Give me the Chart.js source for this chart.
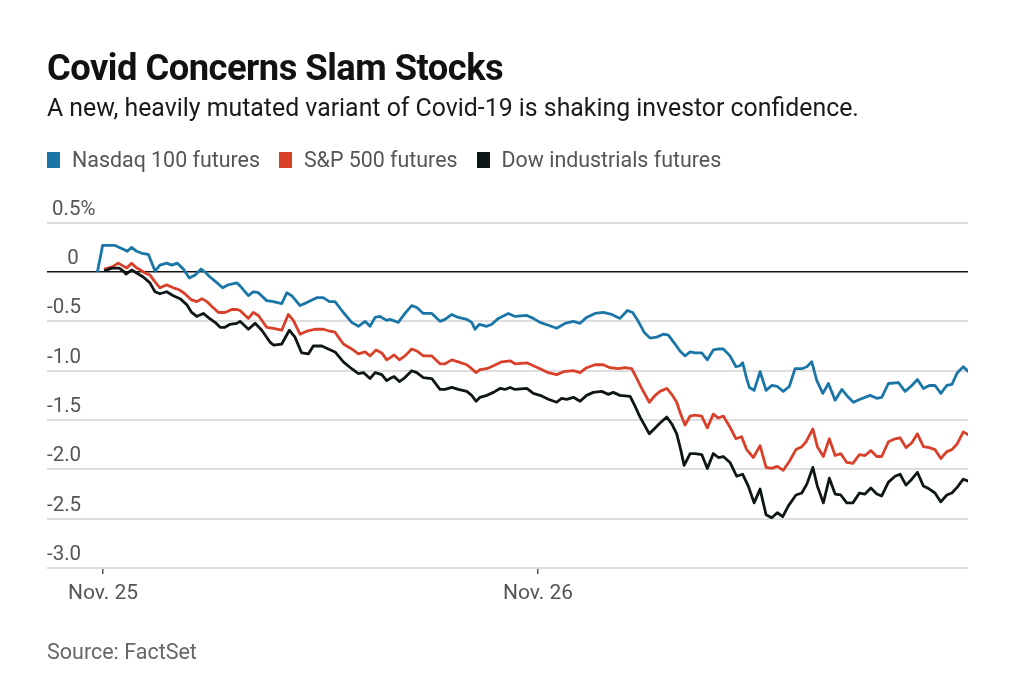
<!DOCTYPE html>
<html>
<head>
<meta charset="utf-8">
<script src="https://cdn.jsdelivr.net/npm/chart.js@4/dist/chart.umd.min.js"></script>
<style>
  html, body { margin:0; padding:0; background:#fff; width:1024px; height:691px; overflow:hidden; font-family: Roboto, "Liberation Sans", sans-serif; }
  #title { position:absolute; left:47px; top:50px; font-size:36.3px; line-height:36px; font-weight:700; color:#111; letter-spacing:-0.5px; white-space:nowrap; }
  #subtitle { position:absolute; left:47px; top:96px; font-size:24.85px; line-height:24.7px; color:#1a1a1a; white-space:nowrap; }
  #legend { position:absolute; left:47px; top:149px; font-size:21.4px; line-height:22px; color:#555; white-space:nowrap; }
  #legend span.item { display:inline-block; margin-right:19px; }
  #legend span.sw { display:inline-block; width:13px; height:16px; margin-right:12px; vertical-align:-1px; }
  #source { position:absolute; left:47px; top:641px; font-size:21.5px; line-height:21.5px; color:#666; white-space:nowrap; }
  #chart { position:absolute; left:0; top:0; }
</style>
</head>
<body>
<canvas id="chart" width="1024" height="691"></canvas>
<div id="title">Covid Concerns Slam Stocks</div>
<div id="subtitle">A new, heavily mutated variant of Covid-19 is shaking investor confidence.</div>
<div id="legend"></div>
<div id="source">Source: FactSet</div>
<script>
// ---- data (x = hours since Nov. 25 00:00, y = % change) ----
const seriesNames = ["Nasdaq 100 futures", "S&P 500 futures", "Dow industrials futures"];
const xTickValues = [0, 24];
const xTickLabels = ["Nov. 25", "Nov. 26"];
const yTickValues = [0.5, 0, -0.5, -1.0, -1.5, -2.0, -2.5, -3.0];

const nasdaqPoints = [[-0.31,0.00],[-0.02,0.27],[0.66,0.27],[1.12,0.23],[1.34,0.21],[1.58,0.25],[1.86,0.21],[2.14,0.19],[2.50,0.18],[2.87,0.01],[3.14,0.07],[3.51,0.09],[3.79,0.07],[4.10,0.09],[4.43,0.03],[4.76,-0.06],[5.08,-0.03],[5.41,0.03],[5.63,0.00],[5.90,-0.05],[6.23,-0.10],[6.60,-0.16],[6.91,-0.13],[7.38,-0.11],[7.56,-0.14],[8.02,-0.24],[8.29,-0.20],[8.57,-0.21],[9.03,-0.29],[9.40,-0.30],[9.86,-0.32],[10.14,-0.21],[10.41,-0.24],[10.87,-0.34],[11.24,-0.31],[11.79,-0.26],[12.15,-0.26],[12.49,-0.30],[12.80,-0.30],[13.26,-0.41],[13.72,-0.51],[14.09,-0.55],[14.46,-0.50],[14.73,-0.55],[15.01,-0.46],[15.28,-0.45],[15.65,-0.49],[15.83,-0.48],[16.29,-0.51],[16.66,-0.42],[17.03,-0.34],[17.31,-0.36],[17.67,-0.42],[18.14,-0.42],[18.59,-0.50],[18.87,-0.48],[19.24,-0.43],[19.60,-0.46],[20.07,-0.48],[20.34,-0.51],[20.52,-0.58],[20.76,-0.53],[21.17,-0.55],[21.45,-0.53],[21.81,-0.47],[22.36,-0.42],[22.73,-0.45],[23.38,-0.44],[23.74,-0.47],[24.11,-0.51],[24.57,-0.54],[25.03,-0.57],[25.49,-0.52],[25.95,-0.50],[26.32,-0.52],[26.68,-0.46],[27.14,-0.42],[27.60,-0.41],[28.07,-0.43],[28.52,-0.47],[28.93,-0.39],[29.22,-0.41],[29.53,-0.50],[29.85,-0.61],[30.18,-0.67],[30.55,-0.66],[30.91,-0.63],[31.19,-0.64],[31.56,-0.73],[31.83,-0.80],[32.11,-0.85],[32.39,-0.81],[32.66,-0.82],[33.03,-0.82],[33.34,-0.89],[33.67,-0.79],[33.95,-0.78],[34.22,-0.78],[34.59,-0.85],[34.92,-0.96],[35.14,-0.95],[35.29,-0.92],[35.51,-1.08],[35.66,-1.17],[35.92,-1.20],[36.25,-1.01],[36.58,-1.20],[36.89,-1.15],[37.20,-1.16],[37.53,-1.21],[37.86,-1.16],[38.18,-0.98],[38.55,-0.98],[38.83,-0.96],[39.10,-0.91],[39.38,-1.10],[39.71,-1.23],[40.02,-1.13],[40.39,-1.30],[40.76,-1.19],[41.12,-1.27],[41.40,-1.32],[41.77,-1.29],[42.32,-1.25],[42.69,-1.28],[42.96,-1.27],[43.33,-1.13],[43.88,-1.12],[44.25,-1.21],[44.62,-1.15],[44.93,-1.09],[45.26,-1.18],[45.59,-1.15],[45.90,-1.15],[46.22,-1.23],[46.55,-1.15],[46.83,-1.14],[47.13,-1.02],[47.46,-0.96],[47.74,-1.01]];

const spPoints = [[0.06,0.03],[0.48,0.05],[0.84,0.09],[1.12,0.06],[1.31,0.04],[1.58,0.09],[1.86,0.04],[2.08,0.02],[2.32,-0.01],[2.59,-0.03],[2.87,-0.10],[3.14,-0.16],[3.51,-0.13],[3.88,-0.16],[4.21,-0.18],[4.52,-0.22],[4.86,-0.28],[5.17,-0.30],[5.46,-0.27],[5.73,-0.30],[6.01,-0.35],[6.37,-0.41],[6.73,-0.41],[7.10,-0.38],[7.38,-0.38],[7.56,-0.39],[8.02,-0.47],[8.29,-0.41],[8.57,-0.44],[9.03,-0.56],[9.40,-0.57],[9.86,-0.59],[10.22,-0.43],[10.50,-0.49],[10.87,-0.63],[11.24,-0.60],[11.70,-0.58],[12.15,-0.58],[12.52,-0.60],[12.80,-0.61],[13.26,-0.73],[13.72,-0.78],[14.09,-0.83],[14.46,-0.81],[14.73,-0.85],[15.06,-0.79],[15.38,-0.82],[15.65,-0.89],[15.83,-0.87],[16.06,-0.84],[16.35,-0.89],[16.66,-0.85],[17.03,-0.78],[17.31,-0.80],[17.67,-0.85],[18.14,-0.85],[18.59,-0.93],[18.87,-0.93],[19.24,-0.89],[19.60,-0.91],[20.07,-0.94],[20.34,-0.98],[20.58,-1.02],[20.80,-0.99],[21.17,-0.98],[21.54,-0.95],[22.00,-0.91],[22.46,-0.90],[22.73,-0.93],[23.38,-0.92],[23.74,-0.95],[24.11,-0.98],[24.57,-1.02],[25.03,-1.04],[25.40,-1.01],[25.95,-1.00],[26.32,-1.02],[26.68,-0.97],[27.14,-0.94],[27.60,-0.94],[27.97,-0.97],[28.43,-0.98],[28.80,-0.97],[29.17,-0.98],[29.45,-1.08],[29.72,-1.18],[30.14,-1.32],[30.46,-1.25],[30.73,-1.21],[31.10,-1.18],[31.38,-1.24],[31.65,-1.32],[31.83,-1.42],[32.11,-1.55],[32.39,-1.46],[32.66,-1.45],[33.03,-1.46],[33.34,-1.58],[33.67,-1.44],[33.95,-1.48],[34.22,-1.46],[34.55,-1.56],[34.92,-1.69],[35.23,-1.67],[35.51,-1.80],[35.88,-1.88],[36.25,-1.76],[36.58,-1.98],[36.89,-1.99],[37.20,-1.97],[37.53,-2.01],[37.86,-1.92],[38.23,-1.80],[38.55,-1.77],[38.79,-1.72],[39.16,-1.59],[39.41,-1.77],[39.74,-1.87],[40.07,-1.69],[40.39,-1.86],[40.70,-1.84],[41.03,-1.93],[41.37,-1.94],[41.73,-1.85],[42.04,-1.86],[42.36,-1.81],[42.69,-1.87],[42.96,-1.87],[43.33,-1.72],[43.70,-1.69],[43.97,-1.68],[44.30,-1.78],[44.62,-1.73],[44.93,-1.64],[45.26,-1.77],[45.59,-1.78],[45.90,-1.80],[46.22,-1.89],[46.55,-1.82],[46.83,-1.80],[47.13,-1.74],[47.46,-1.62],[47.74,-1.65]];

const dowPoints = [[0.06,0.01],[0.48,0.04],[0.90,0.04],[1.12,0.01],[1.27,-0.02],[1.58,0.02],[1.86,-0.01],[2.22,-0.05],[2.59,-0.11],[2.87,-0.20],[3.14,-0.22],[3.51,-0.20],[3.88,-0.24],[4.25,-0.27],[4.62,-0.33],[4.89,-0.41],[5.17,-0.45],[5.53,-0.42],[5.87,-0.47],[6.18,-0.51],[6.46,-0.56],[6.73,-0.56],[7.01,-0.53],[7.38,-0.52],[7.56,-0.50],[8.02,-0.58],[8.39,-0.52],[8.76,-0.59],[9.21,-0.71],[9.40,-0.74],[9.86,-0.73],[10.28,-0.59],[10.59,-0.66],[10.96,-0.82],[11.33,-0.83],[11.60,-0.75],[12.07,-0.75],[12.43,-0.78],[12.80,-0.81],[13.26,-0.91],[13.72,-0.98],[14.09,-1.03],[14.37,-1.02],[14.73,-1.08],[15.01,-1.02],[15.38,-1.04],[15.65,-1.10],[15.83,-1.08],[16.06,-1.06],[16.35,-1.11],[16.66,-1.07],[17.03,-1.00],[17.31,-1.02],[17.67,-1.07],[18.14,-1.08],[18.59,-1.19],[18.87,-1.19],[19.24,-1.17],[19.60,-1.19],[20.07,-1.21],[20.34,-1.25],[20.58,-1.31],[20.80,-1.27],[21.17,-1.25],[21.54,-1.22],[21.90,-1.18],[22.18,-1.19],[22.46,-1.17],[22.73,-1.19],[23.38,-1.18],[23.74,-1.23],[24.11,-1.25],[24.57,-1.29],[25.03,-1.32],[25.30,-1.28],[25.58,-1.29],[25.95,-1.27],[26.32,-1.31],[26.68,-1.25],[27.05,-1.22],[27.51,-1.21],[27.88,-1.24],[28.15,-1.22],[28.52,-1.25],[29.08,-1.26],[29.35,-1.36],[29.63,-1.47],[30.14,-1.64],[30.46,-1.58],[30.73,-1.53],[31.10,-1.47],[31.38,-1.54],[31.65,-1.64],[31.87,-1.80],[32.06,-1.96],[32.39,-1.84],[32.66,-1.84],[33.03,-1.85],[33.34,-1.99],[33.67,-1.84],[33.95,-1.88],[34.22,-1.87],[34.59,-1.93],[34.96,-2.07],[35.29,-2.05],[35.60,-2.17],[35.92,-2.34],[36.25,-2.20],[36.58,-2.46],[36.89,-2.49],[37.20,-2.44],[37.50,-2.48],[37.81,-2.37],[38.23,-2.26],[38.55,-2.24],[38.83,-2.15],[39.16,-1.98],[39.41,-2.17],[39.74,-2.34],[40.07,-2.09],[40.39,-2.25],[40.70,-2.26],[41.03,-2.34],[41.37,-2.34],[41.73,-2.24],[42.04,-2.25],[42.36,-2.19],[42.69,-2.25],[42.96,-2.27],[43.33,-2.13],[43.70,-2.07],[43.97,-2.05],[44.30,-2.16],[44.62,-2.10],[44.93,-2.03],[45.26,-2.17],[45.59,-2.20],[45.90,-2.24],[46.22,-2.33],[46.55,-2.26],[46.83,-2.24],[47.13,-2.18],[47.46,-2.10],[47.74,-2.12]];

// ---- styles ----
const seriesColors = ["#1b76a8", "#d8402a", "#0e1516"];

// legend (HTML, real text)
const legendEl = document.getElementById('legend');
seriesNames.forEach((name, i) => {
  const item = document.createElement('span');
  item.className = 'item';
  const sw = document.createElement('span');
  sw.className = 'sw';
  sw.style.background = seriesColors[i];
  item.appendChild(sw);
  item.appendChild(document.createTextNode(name));
  legendEl.appendChild(item);
});

const toXY = pts => pts.map(p => ({ x: p[0], y: p[1] }));
const allPoints = [nasdaqPoints, spPoints, dowPoints];

const fmtY = v => {
  if (v === 0) return '    0';
  if (v === 0.5) return ' 0.5%';
  return v.toFixed(1);
};

new Chart(document.getElementById('chart'), {
  type: 'line',
  data: {
    datasets: allPoints.map((pts, i) => ({
      label: seriesNames[i],
      data: toXY(pts),
      borderColor: seriesColors[i],
      backgroundColor: seriesColors[i],
      borderWidth: 2.8,
      pointRadius: 0,
      tension: 0,
      borderJoinStyle: 'round',
      fill: false
    })).reverse()
  },
  options: {
    responsive: false,
    devicePixelRatio: 1,
    animation: false,
    layout: { padding: { left: 47, right: 56, top: 222.7, bottom: 83 } },
    plugins: { legend: { display: false }, tooltip: { enabled: false } },
    scales: {
      x: {
        type: 'linear',
        min: -3.09,
        max: 47.72,
        afterFit: axis => { axis.height = 40; },
        afterBuildTicks: axis => { axis.ticks = xTickValues.map(v => ({ value: v })); },
        border: { display: false },
        grid: { drawOnChartArea: false, drawTicks: true, tickLength: 6, color: '#555', lineWidth: 1.5 },
        ticks: {
          autoSkip: false,
          maxRotation: 0,
          padding: 7,
          color: '#555',
          font: { family: 'Roboto', size: 21 },
          callback: (v) => { const i = xTickValues.indexOf(v); return i >= 0 ? xTickLabels[i] : ''; }
        }
      },
      y: {
        min: -3.0,
        max: 0.5,
        afterFit: axis => { axis.width = 0; },
        afterBuildTicks: axis => { axis.ticks = yTickValues.map(v => ({ value: v })); },
        border: { display: false },
        grid: {
          drawTicks: false,
          color: ctx => (ctx.tick && ctx.tick.value === 0) ? '#111' : '#dedede',
          lineWidth: ctx => (ctx.tick && ctx.tick.value === 0) ? 1.5 : 2
        },
        ticks: {
          mirror: true,
          padding: 0,
          labelOffset: -13,
          color: '#555',
          font: { family: 'Roboto', size: 20.5 },
          callback: v => fmtY(v)
        }
      }
    }
  }
});
</script>
</body>
</html>
